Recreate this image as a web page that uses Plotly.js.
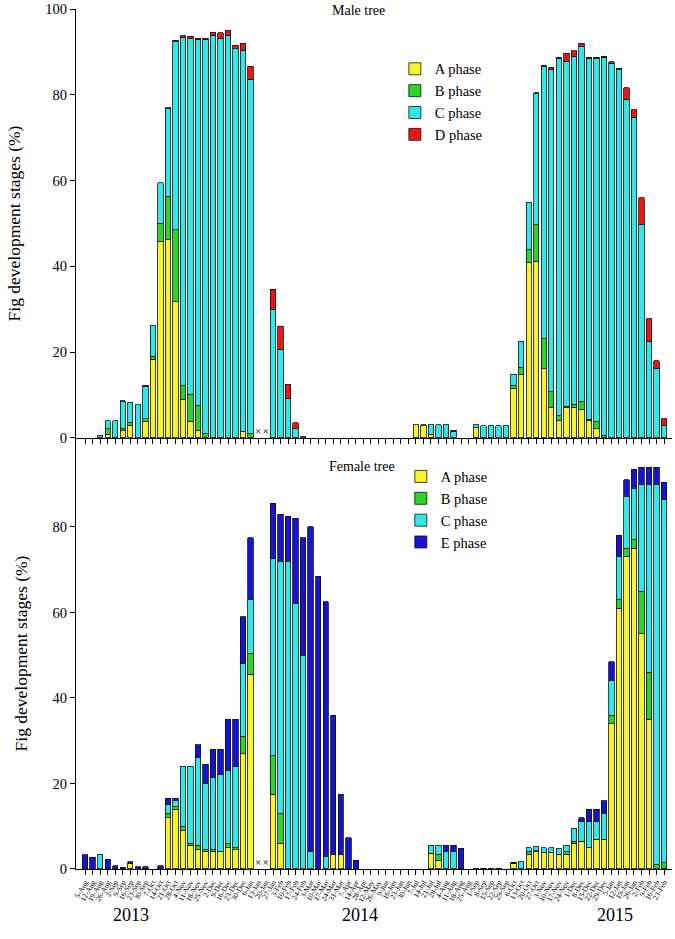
<!DOCTYPE html>
<html>
<head>
<meta charset="utf-8">
<script src="https://cdn.plot.ly/plotly-3.0.1.min.js"></script>
<style>
  body { margin: 0; background: #fff; }
  #plotArea { width: 675px; height: 939px; }
</style>
</head>
<body>
<div id="plotArea"></div>
<script>
// sampling dates (Aug 2013 - Feb 2015)
var dates = [
  "5-Aug", "12-Aug", "19-Aug", "26-Aug", "2-Sep", "9-Sep", "16-Sep", "23-Sep", "30-Sep", "7-Oct",
  "14-Oct", "21-Oct", "28-Oct", "4-Nov", "11-Nov", "18-Nov", "25-Nov", "2-Dec", "9-Dec", "16-Dec",
  "23-Dec", "30-Dec", "6-Jan", "13-Jan", "20-Jan", "27-Jan", "3-Feb", "10-Feb", "17-Feb", "24-Feb",
  "3-Mar", "10-Mar", "17-Mar", "24-Mar", "31-Mar", "7-Apr", "14-Apr", "28-Apr", "12-May", "26-May",
  "9-Jun", "16-Jun", "23-Jun", "30-Jun", "7-Jul", "14-Jul", "21-Jul", "28-Jul", "4-Aug", "11-Aug",
  "18-Aug", "25-Aug", "1-Sep", "8-Sep", "15-Sep", "22-Sep", "29-Sep", "6-Oct", "13-Oct", "20-Oct",
  "27-Oct", "3-Nov", "10-Nov", "17-Nov", "24-Nov", "1-Dec", "8-Dec", "15-Dec", "22-Dec", "29-Dec",
  "5-Jan", "12-Jan", "19-Jan", "26-Jan", "2-Feb", "9-Feb", "16-Feb", "23-Feb"
];
var years = ["2013", "2014", "2015"];
// dates with no sample (marked with x)
var missing = ["13-Jan", "20-Jan"];
var missingMark = [1.4, 1.4];

// MALE TREE
var maleA = [
  null, null, null, 0.9, null, 1.8, 2.9, null, 3.8, 18.4,
  45.9, 46.2, 31.8, 9.0, 3.9, 1.7, null, null, null, null,
  null, 1.6, null, null, null, null, null, null, null, null,
  null, null, null, null, null, null, null, null, null, null,
  null, null, null, null, 3.1, 2.8, 0.8, null, null, null,
  null, null, 2.4, null, null, null, null, 11.5, 14.8, 40.9,
  41.2, 16.1, 7.0, 4.1, 7.0, 7.0, 6.7, 4.0, 2.1, null,
  null, null, null, null, null, null, null, null
];
var maleB = [
  null, null, null, 1.2, null, 0.5, 0.6, null, 0.7, 0.7,
  4.2, 10.2, 16.7, 3.2, 6.3, 5.9, 1.0, null, null, null,
  null, null, 1.0, null, null, null, null, null, null, null,
  null, null, null, null, null, null, null, null, null, null,
  null, null, null, null, null, null, null, null, null, null,
  null, null, null, null, null, null, null, 0.8, 1.7, 3.1,
  8.5, 7.1, 3.8, 1.1, 0.4, 0.9, 1.7, 0.3, 1.7, 0.5,
  null, null, null, null, null, null, null, null
];
var maleC = [
  null, null, 0.6, 1.9, 4.0, 6.1, 4.8, 7.7, 7.5, 7.2,
  9.4, 20.3, 43.9, 81.1, 82.9, 85.4, 92.0, 93.8, 93.2, 93.8,
  90.7, 88.7, 82.6, null, null, 30.0, 20.7, 9.1, 2.1, 0.3,
  null, null, null, null, null, null, null, null, null, null,
  null, null, null, null, null, 0.3, 2.3, 3.1, 3.1, 1.4,
  null, null, 0.7, 2.8, 2.8, 2.8, 2.8, 2.5, 6.0, 10.9,
  30.5, 63.4, 75.0, 83.3, 80.4, 81.0, 82.9, 84.2, 84.7, 88.2,
  87.4, 85.9, 79.0, 74.8, 49.7, 22.4, 16.2, 2.8
];
var maleD = [
  null, null, null, null, null, 0.3, null, null, 0.3, null,
  null, 0.3, 0.3, 0.5, 0.5, 0.2, 0.2, 0.8, 1.3, 1.3,
  0.8, 1.7, 3.0, null, null, 4.7, 5.4, 3.4, 1.4, null,
  null, null, null, null, null, null, null, null, null, null,
  null, null, null, null, null, null, null, null, null, 0.4,
  null, null, null, null, null, null, null, null, null, null,
  0.3, 0.3, 0.6, 0.3, 1.9, 1.4, 0.7, 0.3, 0.3, 0.3,
  0.3, 0.3, 2.6, 1.7, 6.3, 5.4, 1.8, 1.7
];

// FEMALE TREE
var femA = [
  null, null, null, null, null, null, 1.2, null, null, null,
  null, 12, 14, 9, 5.5, 4.5, 4, 4, 4, 5,
  4.5, 27, 45.5, null, null, 17.5, 6, null, null, null,
  null, null, null, 3.5, 3.5, null, null, null, null, null,
  null, null, null, null, null, null, 3.7, 2, null, null,
  null, null, 0.2, 0.2, 0.2, 0.2, null, 1.2, null, 3.5,
  4, 3.8, 3.8, 3.5, 3.5, 6, 6.5, 5, 7, 7,
  34, 61, 73, 75, 55, 35, null, null
];
var femB = [
  null, null, null, null, null, null, null, null, null, null,
  null, 1, 0.5, 1, 0.5, 1, 0.5, 0.5, null, 1,
  0.5, 4, 5, null, null, 9, 7, null, null, null,
  null, null, null, null, null, null, null, null, null, null,
  null, null, null, null, null, null, null, 1.5, null, null,
  null, null, null, null, null, null, null, null, null, 0.5,
  0.3, null, null, null, 0.5, 0.5, null, null, null, null,
  2, 2, 2, 2, 10, 11, 1, 1.5
];
var femC = [
  null, null, 3.5, null, null, null, null, null, null, null,
  null, 2, 1.5, 14, 18, 20.5, 15.5, 17, 18, 17,
  19, 17, 12.5, null, null, 46, 59, 72, 62, 50,
  4, null, 3, null, null, null, null, null, null, null,
  null, null, null, null, null, null, 1.8, 2, 4, 4,
  null, null, null, null, null, null, null, null, 1.7, 1,
  1, 1.2, 1.2, 1.3, 1.5, 3, 4.5, 6, 4, 6,
  8, 10, 12, 12, 25, 44, 89, 85
];
var femE = [
  3.3, 2.8, null, 2.3, 0.8, 0.4, 0.5, 0.5, 0.5, null,
  0.8, 1.5, 0.5, null, null, 3, 4.5, 6.5, 6, 12,
  11, 11, 14.5, null, null, 13, 11, 10.5, 20, 27.5,
  76, 68.5, 59.5, 32.5, 14, 7.3, 2, null, null, null,
  null, null, null, null, null, null, null, null, 1.5, 1.5,
  4.8, null, null, null, null, null, null, 0.4, null, null,
  null, null, null, null, null, null, 1, 3, 3, 3,
  4.5, 5, 4, 4.5, 4, 4, 4, 4
];

var colors = {A: "#F8F42A", B: "#2BD42B", C: "#30E8E8", D: "#E81818", E: "#1414D2"};
var serif = "Liberation Serif, Times New Roman, serif";

function barTrace(name, values, color, xa, ya, legend) {
  return {
    x: dates,
    y: values,
    name: name,
    type: "bar",
    xaxis: xa,
    yaxis: ya,
    legend: legend,
    marker: {color: color, line: {color: "#111", width: 0.8}},
    hoverinfo: "x+y+name"
  };
}

function crossTrace(xa, ya) {
  return {
    x: missing,
    y: missingMark,
    xaxis: xa,
    yaxis: ya,
    mode: "text",
    type: "scatter",
    text: ["\u00d7", "\u00d7"],
    textfont: {family: serif, size: 11, color: "#000"},
    showlegend: false,
    hoverinfo: "skip"
  };
}

var data = [
  barTrace("A phase", maleA, colors.A, "x2", "y2", "legend"),
  barTrace("B phase", maleB, colors.B, "x2", "y2", "legend"),
  barTrace("C phase", maleC, colors.C, "x2", "y2", "legend"),
  barTrace("D phase", maleD, colors.D, "x2", "y2", "legend"),
  crossTrace("x2", "y2"),
  barTrace("A phase", femA, colors.A, "x", "y", "legend2"),
  barTrace("B phase", femB, colors.B, "x", "y", "legend2"),
  barTrace("C phase", femC, colors.C, "x", "y", "legend2"),
  barTrace("E phase", femE, colors.E, "x", "y", "legend2"),
  crossTrace("x", "y")
];

var split = 0.5012;
var xRange = [-1.22, 78.06];

var yTitle = {text: "Fig development stages (%)", font: {family: serif, size: 17.5, color: "#000"}, standoff: 20};

var layout = {
  width: 675,
  height: 939,
  margin: {l: 76, r: 3, t: 9, b: 70},
  paper_bgcolor: "#fff",
  plot_bgcolor: "#fff",
  barmode: "stack",
  bargap: 0.28,
  font: {family: serif, color: "#000"},
  xaxis: {
    type: "category",
    anchor: "y",
    range: xRange,
    tickmode: "linear",
    dtick: 1,
    tickangle: -60,
    tickfont: {family: serif, size: 7.5},
    ticks: "outside",
    ticklen: 5,
    tickcolor: "#000",
    showline: true,
    linecolor: "#000",
    linewidth: 1,
    showgrid: false,
    zeroline: false
  },
  xaxis2: {
    type: "category",
    anchor: "y2",
    matches: "x",
    range: xRange,
    tickmode: "linear",
    dtick: 1,
    showticklabels: false,
    ticks: "outside",
    ticklen: 5,
    tickcolor: "#000",
    showline: true,
    linecolor: "#000",
    linewidth: 1,
    showgrid: false,
    zeroline: false
  },
  yaxis: {
    domain: [0, split],
    range: [0, 100.8],
    tickvals: [0, 20, 40, 60, 80],
    tickfont: {family: serif, size: 14.5},
    ticks: "outside",
    ticklen: 5,
    tickcolor: "#000",
    showline: true,
    linecolor: "#000",
    showgrid: false,
    zeroline: false,
    title: yTitle
  },
  yaxis2: {
    domain: [split, 1],
    range: [0, 100],
    tickvals: [0, 20, 40, 60, 80, 100],
    tickfont: {family: serif, size: 14.5},
    ticks: "outside",
    ticklen: 5,
    tickcolor: "#000",
    showline: true,
    linecolor: "#000",
    showgrid: false,
    zeroline: false,
    title: yTitle
  },
  legend: {
    x: 0.535, y: 0.949, xanchor: "left", yanchor: "top",
    traceorder: "normal",
    font: {family: serif, size: 14.5},
    bgcolor: "rgba(0,0,0,0)"
  },
  legend2: {
    x: 0.545, y: 0.475, xanchor: "left", yanchor: "top",
    traceorder: "normal",
    font: {family: serif, size: 14.5},
    bgcolor: "rgba(0,0,0,0)"
  },
  annotations: [
    {text: "Male tree", xref: "paper", yref: "paper", x: 0.474, y: 0.9988, yanchor: "middle", showarrow: false, font: {family: serif, size: 14}},
    {text: "Female tree", xref: "paper", yref: "paper", x: 0.48, y: 0.4686, yanchor: "middle", showarrow: false, font: {family: serif, size: 14}},
    {text: years[0], xref: "paper", yref: "paper", x: 0.058, y: -0.0535, yanchor: "middle", showarrow: false, font: {family: serif, size: 18}},
    {text: years[1], xref: "paper", yref: "paper", x: 0.477, y: -0.0535, yanchor: "middle", showarrow: false, font: {family: serif, size: 18}},
    {text: years[2], xref: "paper", yref: "paper", x: 0.938, y: -0.0535, yanchor: "middle", showarrow: false, font: {family: serif, size: 18}}
  ]
};

Plotly.newPlot("plotArea", data, layout, {displayModeBar: false, staticPlot: true});
</script>
</body>
</html>
